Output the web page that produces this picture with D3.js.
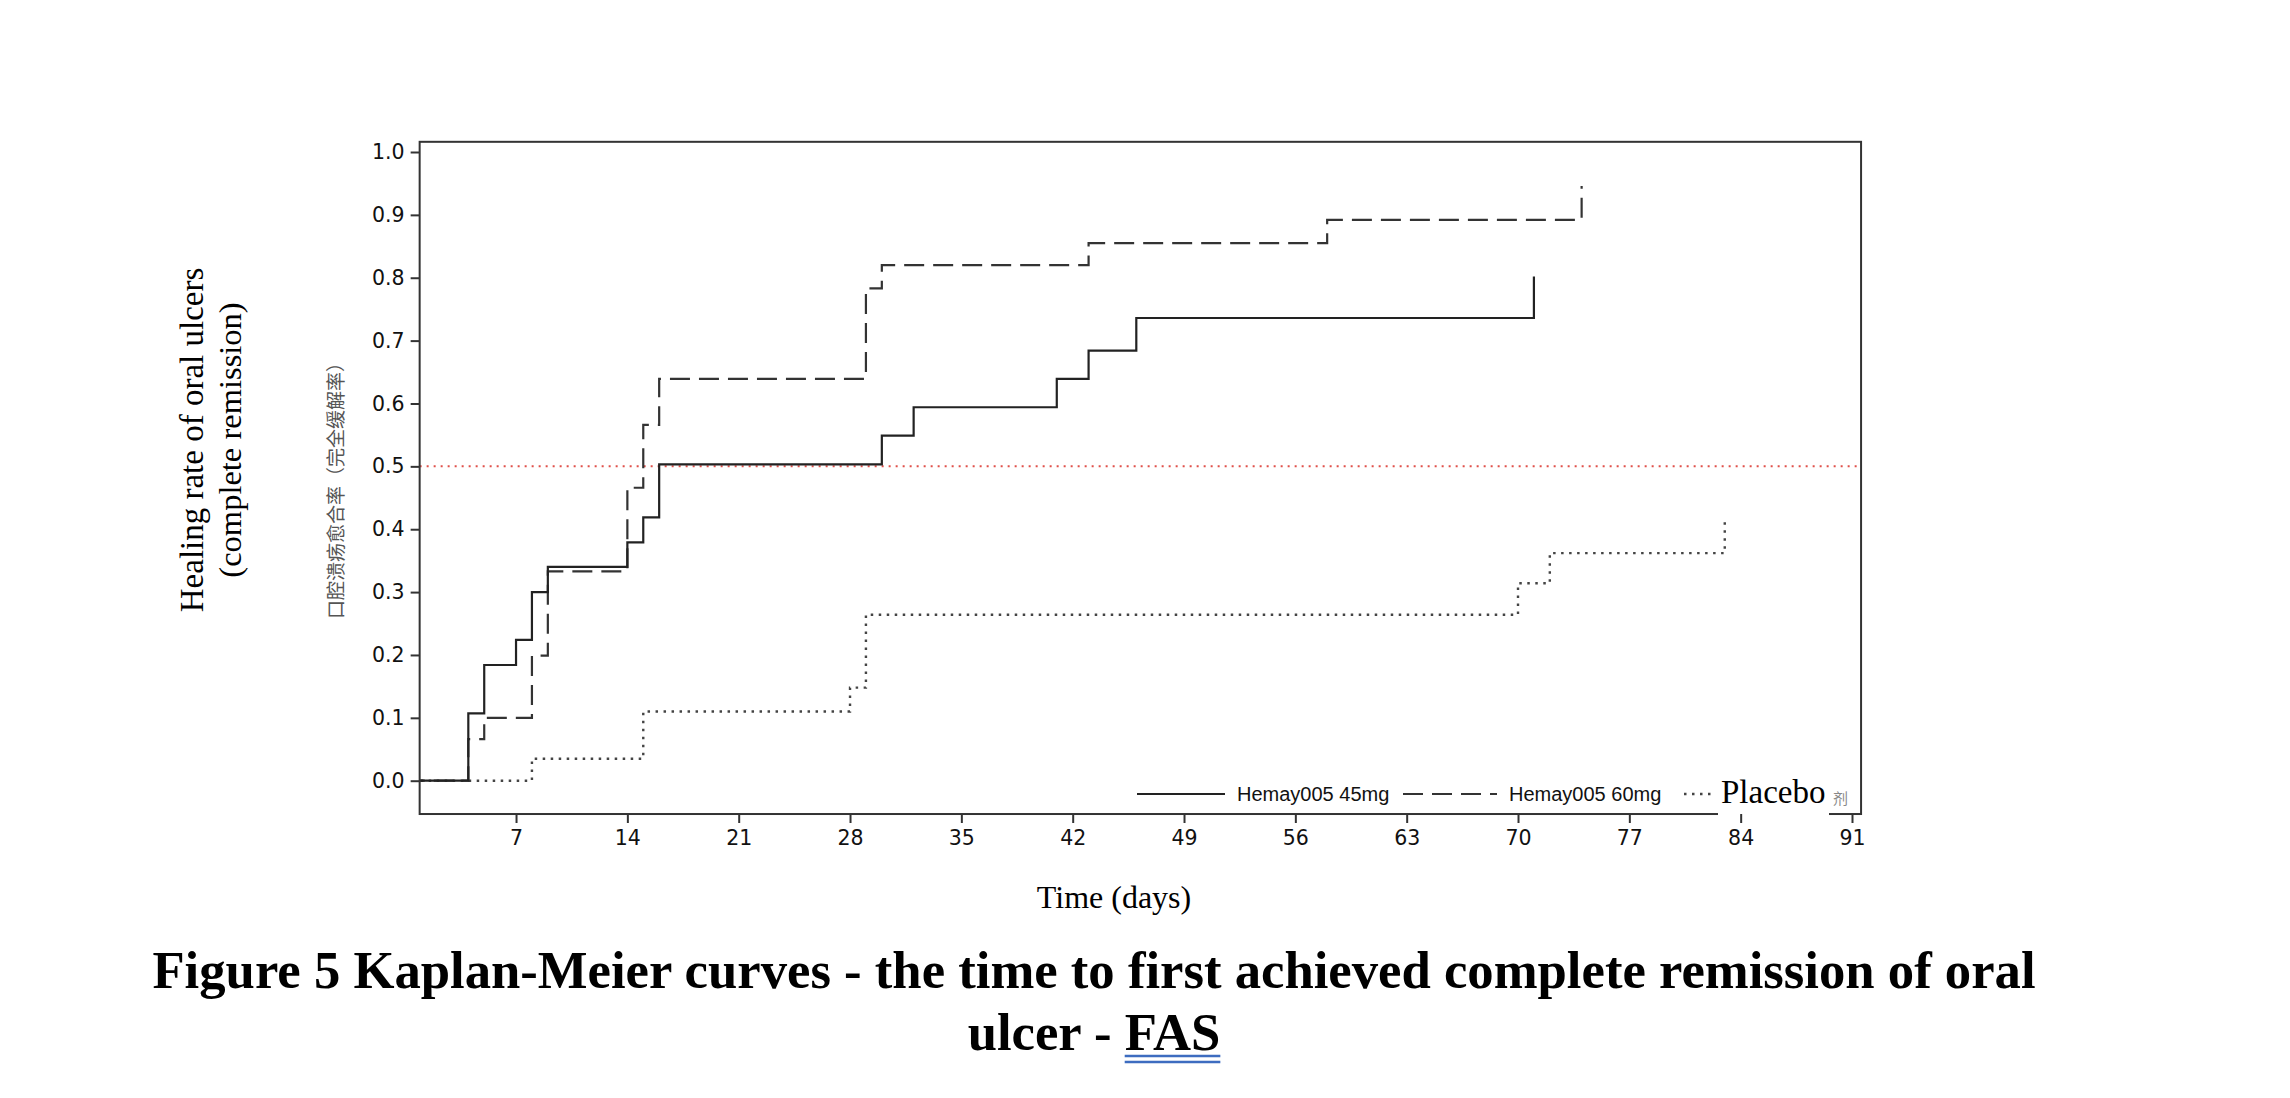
<!DOCTYPE html>
<html>
<head>
<meta charset="utf-8">
<script src="https://cdn.jsdelivr.net/npm/d3@7"></script>
<style>
  body { margin: 0; background: #fff; }
</style>
</head>
<body>
<div id="chart"></div>
<script>
// step values (time in days, cumulative healing rate)
var days45 = [0, 4, 5, 7, 8, 9, 14, 15, 16, 30, 32, 41, 43, 46, 71];
var rate45 = [0, 0.107, 0.184, 0.224, 0.300, 0.340, 0.379, 0.419, 0.503, 0.549, 0.594, 0.639, 0.684, 0.736, 0.802];

var days60 = [0, 4, 5, 8, 9, 14, 15, 16, 29, 30, 43, 58, 74];
var rate60 = [0, 0.066, 0.100, 0.199, 0.333, 0.466, 0.566, 0.639, 0.783, 0.820, 0.855, 0.892, 0.946];

var daysPbo = [0, 8, 15, 28, 29, 70, 72, 83];
var ratePbo = [0, 0.035, 0.110, 0.148, 0.264, 0.314, 0.362, 0.420];

var seriesNames = ["Hemay005 45mg", "Hemay005 60mg", "Placebo"];
var xTicks = [7, 14, 21, 28, 35, 42, 49, 56, 63, 70, 77, 84, 91];
var yTicks = [0, 0.1, 0.2, 0.3, 0.4, 0.5, 0.6, 0.7, 0.8, 0.9, 1.0];
var refLine = 0.5;

var width = 2290, height = 1098;

var svg = d3.select("#chart")
    .append("svg")
    .attr("width", width)
    .attr("height", height)
    .style("background", "#fff");

var x = d3.scaleLinear().domain([0, 91]).range([404.7, 1852]);
var y = d3.scaleLinear().domain([0, 1]).range([780.7, 152]);

// frame sits a little outside the tick range, like the SAS output
var fLeft = x(0.94), fRight = x(91.57), fTop = y(1.0162), fBottom = y(-0.053);

var tickFont = "'DejaVu Sans', Verdana, sans-serif";

// clip curves to the frame
svg.append("clipPath").attr("id", "plotclip")
    .append("rect")
    .attr("x", fLeft).attr("y", fTop)
    .attr("width", fRight - fLeft).attr("height", fBottom - fTop);

var plot = svg.append("g").attr("clip-path", "url(#plotclip)");

// 50% reference line
plot.append("line")
    .attr("x1", fLeft).attr("x2", fRight)
    .attr("y1", y(refLine)).attr("y2", y(refLine))
    .attr("stroke", "#e0504a")
    .attr("stroke-width", 2)
    .attr("stroke-dasharray", "2,5");

var step = d3.line()
    .x(function (d) { return x(d[0]); })
    .y(function (d) { return y(d[1]); })
    .curve(d3.curveStepAfter);

var series = [
    { name: seriesNames[0], pts: d3.zip(days45, rate45), dash: null, color: "#222", w: 2.2 },
    { name: seriesNames[1], pts: d3.zip(days60, rate60), dash: "20,9", color: "#333", w: 2.2 },
    { name: seriesNames[2], pts: d3.zip(daysPbo, ratePbo), dash: "2.5,5.5", color: "#444", w: 2.4 }
];

// draw placebo first so the solid line stays on top
series.slice().reverse().forEach(function (s) {
    plot.append("path")
        .datum(s.pts)
        .attr("fill", "none")
        .attr("stroke", s.color)
        .attr("stroke-width", s.w)
        .attr("stroke-dasharray", s.dash)
        .attr("d", step);
});

// frame
svg.append("rect")
    .attr("x", fLeft).attr("y", fTop)
    .attr("width", fRight - fLeft).attr("height", fBottom - fTop)
    .attr("fill", "none")
    .attr("stroke", "#333")
    .attr("stroke-width", 2);

// legend inside the bottom of the frame
var legY = 794;
var legItems = [
    { x0: 1137, x1: 1225, tx: 1237 },
    { x0: 1403, x1: 1497, tx: 1509 },
    { x0: 1684, x1: 1716, tx: 1721 }
];
legItems.forEach(function (li, i) {
    var s = series[i];
    svg.append("line")
        .attr("x1", li.x0).attr("x2", li.x1)
        .attr("y1", legY).attr("y2", legY)
        .attr("stroke", s.color)
        .attr("stroke-width", s.w)
        .attr("stroke-dasharray", s.dash);
    if (i < 2) {
        svg.append("text")
            .attr("x", li.tx).attr("y", legY + 7)
            .style("font-family", "'Liberation Sans', Arial, sans-serif")
            .style("font-size", "20px")
            .attr("fill", "#111")
            .text(s.name);
    }
});

// the placebo entry was pasted over in the source document (white patch, serif text)
svg.append("rect")
    .attr("x", 1718).attr("y", 772)
    .attr("width", 111).attr("height", fBottom + 2 - 772)
    .attr("fill", "#fff");
svg.append("text")
    .attr("x", legItems[2].tx).attr("y", legY + 9)
    .style("font-family", "'Liberation Serif', 'Times New Roman', serif")
    .style("font-size", "33px")
    .attr("fill", "#000")
    .text(seriesNames[2]);
svg.append("text")
    .attr("x", 1833).attr("y", legY + 10)
    .style("font-family", "'Noto Sans CJK SC', sans-serif")
    .style("font-size", "15px")
    .attr("fill", "#888")
    .text("剂");

// axes (after the patch so the 84 tick stays whole)
var xAxis = svg.append("g")
    .attr("transform", "translate(0," + fBottom + ")")
    .call(d3.axisBottom(x).tickValues(xTicks).tickSize(9).tickSizeOuter(0).tickPadding(7));
xAxis.select(".domain").remove();

var yAxis = svg.append("g")
    .attr("transform", "translate(" + fLeft + ",0)")
    .call(d3.axisLeft(y).tickValues(yTicks).tickSize(9).tickSizeOuter(0).tickPadding(6)
        .tickFormat(d3.format(".1f")));
yAxis.select(".domain").remove();

svg.selectAll(".tick line").attr("stroke", "#333").attr("stroke-width", 2);
svg.selectAll(".tick text")
    .attr("fill", "#111")
    .style("font-family", tickFont)
    .style("font-size", "20.5px");

// y labels
svg.append("text")
    .attr("transform", "translate(343,486) rotate(-90)")
    .attr("text-anchor", "middle")
    .style("font-family", "'Noto Sans CJK SC', sans-serif")
    .style("font-size", "19px")
    .attr("fill", "#555")
    .text("口腔溃疡愈合率（完全缓解率）");

svg.append("text")
    .attr("transform", "translate(203,440) rotate(-90)")
    .attr("text-anchor", "middle")
    .style("font-family", "'Liberation Serif', 'Times New Roman', serif")
    .style("font-size", "33px")
    .attr("fill", "#000")
    .text("Healing rate of oral ulcers");
svg.append("text")
    .attr("transform", "translate(241,440) rotate(-90)")
    .attr("text-anchor", "middle")
    .style("font-family", "'Liberation Serif', 'Times New Roman', serif")
    .style("font-size", "32.5px")
    .attr("fill", "#000")
    .text("(complete remission)");

// x label
svg.append("text")
    .attr("x", 1114).attr("y", 908)
    .attr("text-anchor", "middle")
    .style("font-family", "'Liberation Serif', 'Times New Roman', serif")
    .style("font-size", "32px")
    .attr("fill", "#000")
    .text("Time (days)");

// caption
var titleFont = "'Liberation Serif', 'Times New Roman', serif";
svg.append("text")
    .attr("x", 1094).attr("y", 988)
    .attr("text-anchor", "middle")
    .style("font-family", titleFont)
    .style("font-weight", "bold")
    .style("font-size", "52.7px")
    .attr("fill", "#000")
    .text("Figure 5 Kaplan-Meier curves - the time to first achieved complete remission of oral");

var line2 = svg.append("text")
    .attr("x", 1094).attr("y", 1050)
    .attr("text-anchor", "middle")
    .style("font-family", titleFont)
    .style("font-weight", "bold")
    .style("font-size", "52.7px")
    .attr("fill", "#000")
    .text("ulcer - FAS");

// double blue underline under "FAS"
var n = line2.node();
var ux0 = n.getStartPositionOfChar(8).x, ux1 = n.getEndPositionOfChar(10).x;
[1056, 1062].forEach(function (uy) {
    svg.append("line")
        .attr("x1", ux0).attr("x2", ux1)
        .attr("y1", uy).attr("y2", uy)
        .attr("stroke", "#3d6cc0")
        .attr("stroke-width", 2.5);
});
</script>
</body>
</html>
